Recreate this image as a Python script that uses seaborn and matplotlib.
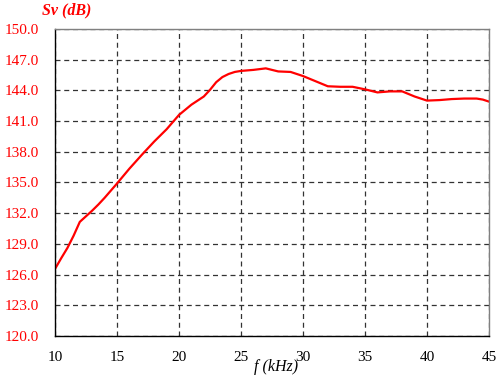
import numpy as np
import pandas as pd
import matplotlib
matplotlib.use("Agg")
import matplotlib.pyplot as plt
import seaborn as sns

freq_khz = [10, 10.5, 11, 11.5, 12, 12.5, 13, 13.5, 14, 15, 16, 17, 18, 19, 20, 21,
            21.5, 22, 22.5, 23, 23.5, 24, 24.5, 25, 26, 27, 27.5, 28, 29, 30, 31, 32,
            33, 34, 35, 36, 37, 38, 39, 40, 41, 42, 43, 44, 44.5, 45]
sv_db = [126.55, 127.6, 128.6, 129.8, 131.15, 131.7, 132.25, 132.85, 133.5, 134.9,
         136.35, 137.7, 139.0, 140.2, 141.6, 142.6, 143.0, 143.4, 144.05, 144.8,
         145.3, 145.6, 145.8, 145.9, 146.0, 146.15, 146.0, 145.85, 145.8, 145.4,
         144.9, 144.4, 144.35, 144.35, 144.1, 143.8, 143.9, 143.9, 143.4, 143.0,
         143.05, 143.15, 143.2, 143.2, 143.1, 142.9]
x_ticks = [10, 15, 20, 25, 30, 35, 40, 45]
y_ticks = [120.0, 123.0, 126.0, 129.0, 132.0, 135.0, 138.0, 141.0, 144.0, 147.0, 150.0]

sns.set_theme(style="white")
plt.rcParams['font.family'] = ['Liberation Serif', 'DejaVu Serif']

df = pd.DataFrame({"f": freq_khz, "sv": sv_db})

fig = plt.figure(figsize=(5, 3.8), dpi=100)
ax = fig.add_axes([0.11, 0.1158, 0.868, 0.808])

sns.lineplot(data=df, x="f", y="sv", ax=ax, color="#ff0000", linewidth=1.6)

ax.set_xlim(10, 45)
ax.set_ylim(120, 150)
ax.set_xticks(x_ticks)
ax.set_xticklabels([str(t) for t in x_ticks])
ax.set_yticks(y_ticks)
ax.set_yticklabels([f"{t:.1f}" for t in y_ticks])

ax.grid(True, linestyle=(0, (4, 3)), color="#333333", linewidth=0.9)
ax.tick_params(axis="both", length=0, labelsize=11)
ax.tick_params(axis="y", colors="#ff0000", pad=11.5)
ax.tick_params(axis="x", colors="#000000", pad=10.5)

for s in ["left", "bottom"]:
    ax.spines[s].set_color("#000000")
    ax.spines[s].set_linewidth(1.0)
for s in ["top", "right"]:
    ax.spines[s].set_color("#808080")
    ax.spines[s].set_linewidth(1.0)

ax.set_xlabel("")
ax.set_ylabel("")
fig.text(0.134, 0.973, "Sv (dB)", color="#ff0000", fontsize=11.5, fontweight="bold",
         fontstyle="italic", ha="center", va="center")
fig.text(0.552, 0.034, "f (kHz)", color="#000000", fontsize=11.5,
         fontstyle="italic", ha="center", va="center")

fig.savefig("out.png", dpi=100)
